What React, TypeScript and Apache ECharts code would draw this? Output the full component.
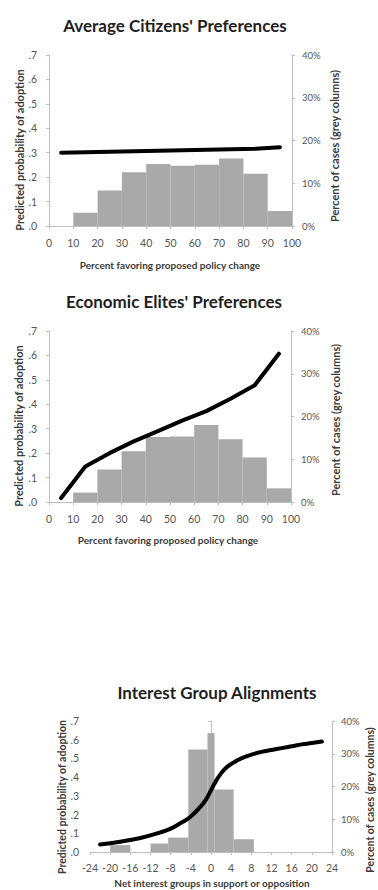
import React, { useEffect, useRef } from 'react';
import * as echarts from 'echarts';

const FONT = 'Lato, "Open Sans", "DejaVu Sans", sans-serif';

// Histogram bins: [from, to, share of cases in %]
const citizenHist: number[][] = [
  [0, 10, 0], [10, 20, 3.1], [20, 30, 8.3], [30, 40, 12.6], [40, 50, 14.5],
  [50, 60, 14.1], [60, 70, 14.3], [70, 80, 15.8], [80, 90, 12.2], [90, 100, 3.5],
];
const citizenX = [5, 15, 25, 35, 45, 55, 65, 75, 85, 95];
const citizenProb = [0.3, 0.302, 0.304, 0.306, 0.308, 0.31, 0.312, 0.314, 0.316, 0.322];

const eliteHist: number[][] = [
  [0, 10, 0], [10, 20, 2.2], [20, 30, 7.6], [30, 40, 11.9], [40, 50, 15.2],
  [50, 60, 15.3], [60, 70, 18.0], [70, 80, 14.7], [80, 90, 10.4], [90, 100, 3.2],
];
const eliteX = [5, 15, 25, 35, 45, 55, 65, 75, 85, 95];
const eliteProb = [0.016, 0.145, 0.2, 0.248, 0.29, 0.333, 0.372, 0.423, 0.478, 0.607];

const groupHist: number[][] = [
  [-20, -16, 2.1], [-12, -8.5, 2.6], [-8.5, -4.5, 4.4], [-4.5, -0.7, 31.3],
  [-0.7, 0.7, 36.3], [0.7, 4.5, 19.1], [4.5, 8.5, 3.9],
];
const groupX = [-22, -18, -14, -10, -8, -6, -4, -2, -1, 0, 1, 2, 3, 4, 6, 8, 10, 12, 14, 16, 18, 20, 22];
const groupProb = [
  0.04, 0.055, 0.075, 0.105, 0.125, 0.155, 0.19, 0.245, 0.28, 0.33, 0.38, 0.42,
  0.45, 0.47, 0.5, 0.52, 0.535, 0.545, 0.555, 0.565, 0.575, 0.582, 0.59,
];

const probLabels = ['.0', '.1', '.2', '.3', '.4', '.5', '.6', '.7'];
const pctLabels = ['0%', '10%', '20%', '30%', '40%'];

const titles = ["Average Citizens' Preferences", "Economic Elites' Preferences", 'Interest Group Alignments'];
const probName = 'Predicted probability of adoption';
const pctName = 'Percent of cases (grey columns)';
const xNames = ['Percent favoring proposed policy change', 'Percent favoring proposed policy change', 'Net interest groups in support or opposition'];

const AXIS = '#bfbfbf';
const LABEL = '#555555';
const NAME = '#3a3a3a';
const BAR = '#a9a9a9';

const histRender = (params: any, api: any) => {
  const p0 = api.coord([api.value(0), api.value(2)]);
  const p1 = api.coord([api.value(1), 0]);
  return {
    type: 'rect',
    shape: { x: p0[0], y: p0[1], width: p1[0] - p0[0], height: p1[1] - p0[1] },
    style: { fill: BAR },
  };
};

function xAxis(grid: number, min: number, max: number, interval: number, margin: number) {
  return {
    type: 'value', gridIndex: grid, min, max, interval,
    axisLine: { lineStyle: { color: AXIS, width: 1 } },
    axisTick: { show: true, length: 3, lineStyle: { color: AXIS } },
    splitLine: { show: false },
    axisLabel: { color: LABEL, fontSize: 10.5, fontFamily: FONT, margin },
  };
}

function probAxis(grid: number, margin: number) {
  return {
    type: 'value', gridIndex: grid, position: 'left', min: 0, max: 0.7, interval: 0.1,
    axisLine: { show: true, lineStyle: { color: AXIS } },
    axisTick: { show: true, length: 3, lineStyle: { color: AXIS } },
    splitLine: { show: false },
    axisLabel: {
      color: LABEL, fontSize: 10.5, fontFamily: FONT, margin,
      formatter: (v: number) => probLabels[Math.round(v * 10)],
    },
  };
}

function pctAxis(grid: number, margin: number) {
  return {
    type: 'value', gridIndex: grid, position: 'right', min: 0, max: 40, interval: 10,
    axisLine: { show: true, lineStyle: { color: AXIS } },
    axisTick: { show: true, length: 3, lineStyle: { color: AXIS } },
    splitLine: { show: false },
    axisLabel: {
      color: LABEL, fontSize: 9.5, fontFamily: FONT, margin, align: 'left',
      formatter: (v: number) => pctLabels[Math.round(v / 10)],
    },
  };
}

function lineSeries(grid: number, xs: number[], ys: number[], smooth: boolean) {
  return {
    type: 'line', xAxisIndex: grid, yAxisIndex: grid * 2, z: 5,
    data: xs.map((x, i) => [x, ys[i]]),
    smooth, showSymbol: false, symbol: 'none',
    lineStyle: { color: '#000', width: 4, cap: 'round', join: 'round' },
  };
}

function histSeries(grid: number, rows: number[][]) {
  return {
    type: 'custom', xAxisIndex: grid, yAxisIndex: grid * 2 + 1, z: 2,
    renderItem: histRender, encode: { x: [0, 1], y: 2 }, data: rows,
  };
}

function text(t: string, x: number, y: number, size: number, color: string, weight: string, rotate = false) {
  return {
    type: 'text', x, y, rotation: rotate ? Math.PI / 2 : 0, silent: true,
    style: {
      text: t, fontSize: size, fontWeight: weight, fontFamily: FONT, fill: color,
      align: 'center', verticalAlign: 'middle',
    },
  };
}

export default function App() {
  const ref = useRef<HTMLDivElement>(null);
  useEffect(() => {
    if (!ref.current) return;
    const chart = echarts.init(ref.current, null, { renderer: 'svg' });
    chart.setOption({
      animation: false,
      backgroundColor: '#fff',
      grid: [
        { left: 49, top: 55, width: 243, height: 171 },
        { left: 49, top: 331, width: 242, height: 171 },
        { left: 90, top: 721, width: 242, height: 131 },
      ],
      xAxis: [
        xAxis(0, 0, 100, 10, 11),
        xAxis(1, 0, 100, 10, 11),
        xAxis(2, -24, 24, 4, 10),
      ],
      yAxis: [
        probAxis(0, 12), pctAxis(0, 10),
        probAxis(1, 12), pctAxis(1, 10),
        probAxis(2, 11), pctAxis(2, 9),
      ],
      series: [
        histSeries(0, citizenHist),
        lineSeries(0, citizenX, citizenProb, false),
        histSeries(1, eliteHist),
        lineSeries(1, eliteX, eliteProb, false),
        histSeries(2, groupHist),
        lineSeries(2, groupX, groupProb, true),
      ],
      graphic: [
        text(titles[0], 175, 25, 17, '#1e1e1e', 'bold'),
        text(titles[1], 174, 301, 17, '#1e1e1e', 'bold'),
        text(titles[2], 217, 692, 17, '#1e1e1e', 'bold'),
        text(probName, 19, 150, 11, NAME, 'bold', true),
        text(probName, 18, 426, 11, NAME, 'bold', true),
        text(probName, 62, 797, 10.5, NAME, 'bold', true),
        text(pctName, 334, 146, 11, NAME, 'bold', true),
        text(pctName, 335, 420, 11, NAME, 'bold', true),
        text(pctName, 370, 800, 10.5, NAME, 'bold', true),
        text(xNames[0], 170, 265, 10, NAME, 'bold'),
        text(xNames[1], 168, 540, 10, NAME, 'bold'),
        text(xNames[2], 212, 883, 10, NAME, 'bold'),
      ],
    });
    return () => chart.dispose();
  }, []);
  return <div ref={ref} style={{ position: 'absolute', left: 0, top: 0, width: 378, height: 890 }} />;
}
